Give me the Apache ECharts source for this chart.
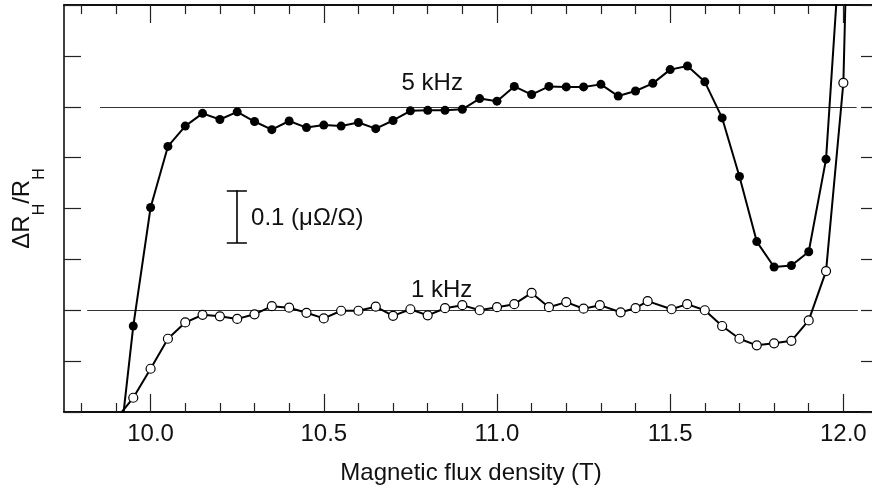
<!DOCTYPE html>
<html>
<head>
<meta charset="utf-8">
<script src="https://cdn.jsdelivr.net/npm/echarts@6/dist/echarts.min.js"></script>
<style>
html,body{margin:0;padding:0;background:#fff;}
#chart{width:872px;height:494px;}
</style>
</head>
<body>
<div id="chart"></div>
<script>
// ---- data ----
const field5k = [9.90, 9.95, 10.00, 10.05, 10.10, 10.15, 10.20, 10.25, 10.30, 10.35, 10.40, 10.45, 10.50, 10.55, 10.60, 10.65, 10.70, 10.75, 10.80, 10.85, 10.90, 10.95, 11.00, 11.05, 11.10, 11.15, 11.20, 11.25, 11.30, 11.35, 11.40, 11.45, 11.50, 11.55, 11.60, 11.65, 11.70, 11.75, 11.80, 11.85, 11.90, 11.95, 12.00];
const signal5k = [-0.134, 0.169, 0.402, 0.522, 0.562, 0.587, 0.575, 0.590, 0.571, 0.555, 0.572, 0.559, 0.564, 0.562, 0.569, 0.557, 0.573, 0.592, 0.593, 0.593, 0.595, 0.616, 0.611, 0.640, 0.624, 0.640, 0.639, 0.639, 0.644, 0.621, 0.631, 0.646, 0.673, 0.680, 0.649, 0.578, 0.463, 0.335, 0.285, 0.288, 0.315, 0.497, 1.013];

const field1k = [9.90, 9.95, 10.00, 10.05, 10.10, 10.15, 10.20, 10.25, 10.30, 10.35, 10.40, 10.45, 10.50, 10.55, 10.60, 10.65, 10.70, 10.75, 10.80, 10.85, 10.90, 10.95, 11.00, 11.05, 11.10, 11.15, 11.20, 11.25, 11.297, 11.357, 11.400, 11.435, 11.504, 11.549, 11.600, 11.65, 11.70, 11.75, 11.80, 11.85, 11.90, 11.95, 12.00, 12.05];
const signal1k = [-0.014, 0.028, 0.085, 0.144, 0.176, 0.191, 0.188, 0.183, 0.192, 0.208, 0.205, 0.195, 0.184, 0.199, 0.199, 0.207, 0.189, 0.202, 0.190, 0.204, 0.210, 0.200, 0.206, 0.212, 0.234, 0.206, 0.216, 0.203, 0.210, 0.196, 0.204, 0.218, 0.202, 0.212, 0.200, 0.169, 0.144, 0.131, 0.135, 0.140, 0.180, 0.277, 0.647, 2.0];

const baseline5k = 0.6;
const baseline1k = 0.2;

const xMajorTicks = [10.0, 10.5, 11.0, 11.5, 12.0];
const xMinorTicks = [9.8, 9.9, 10.1, 10.2, 10.3, 10.4, 10.6, 10.7, 10.8, 10.9, 11.1, 11.2, 11.3, 11.4, 11.6, 11.7, 11.8, 11.9, 12.1];

const xTitle = 'Magnetic flux density (T)';
const label5k = '5 kHz';
const label1k = '1 kHz';
const scaleText = '0.1 (μΩ/Ω)';

// ---- chart ----
const FONT = '"Liberation Sans", Arial, Helvetica, sans-serif';
const FS = 24;
const chart = echarts.init(document.getElementById('chart'), null, {renderer: 'canvas'});

const pair = (xs, ys) => xs.map((x, i) => [x, ys[i]]);

function xAx(pos, ticks, len, withLabels) {
  return {
    type: 'value', position: pos, min: 9.75, max: 12.1, gridIndex: 0,
    axisLine: {show: true, onZero: false, lineStyle: {color: '#000', width: 1.5}},
    axisTick: {show: true, inside: true, length: len, customValues: ticks, lineStyle: {color: '#222', width: 1.2}},
    axisLabel: withLabels ? {show: true, customValues: xMajorTicks, formatter: v => v.toFixed(1), color: '#111', fontSize: FS, fontFamily: FONT, margin: 10} : {show: false},
    splitLine: {show: false},
    name: withLabels ? xTitle : '',
    nameLocation: 'middle', nameGap: 49,
    nameTextStyle: {color: '#111', fontSize: FS, fontFamily: FONT}
  };
}
function yAx(pos, withName) {
  return {
    type: 'value', position: pos, min: 0, max: 0.8, interval: 0.1,
    axisLine: {show: true, onZero: false, lineStyle: {color: '#000', width: 1.5}},
    axisTick: {show: true, inside: true, length: 17, lineStyle: {color: '#222', width: 1.2}},
    axisLabel: {show: false},
    splitLine: {show: false},
    name: withName ? '{a|ΔR}{s|H}{a|/R}{s|H}' : '',
    nameLocation: 'middle', nameRotate: 90, nameGap: 16,
    nameTextStyle: {
      color: '#111', fontFamily: FONT,
      rich: {
        a: {fontSize: FS, fontFamily: FONT, color: '#111', lineHeight: 24, verticalAlign: 'top'},
        s: {fontSize: 16, fontFamily: FONT, color: '#111', lineHeight: 38, verticalAlign: 'bottom'}
      }
    }
  };
}

const option = {
  animation: false,
  backgroundColor: '#fff',
  grid: {left: 64, top: 5, width: 814, height: 407, containLabel: false, outerBoundsMode: 'none'},
  xAxis: [
    xAx('bottom', xMajorTicks, 18, true),
    xAx('bottom', xMinorTicks, 9, false),
    xAx('top', xMajorTicks, 18, false),
    xAx('top', xMinorTicks, 9, false)
  ],
  yAxis: [yAx('left', true), yAx('right', false)],
  series: [
    {
      type: 'lines', coordinateSystem: 'cartesian2d', xAxisIndex: 0, yAxisIndex: 0, z: 1,
      lineStyle: {color: '#333', width: 1.2, opacity: 1},
      data: [
        {coords: [[9.854, baseline5k], [12.038, baseline5k]]},
        {coords: [[9.817, baseline1k], [12.042, baseline1k]]}
      ]
    },
    {
      type: 'lines', coordinateSystem: 'cartesian2d', xAxisIndex: 0, yAxisIndex: 0, z: 3,
      lineStyle: {color: '#000', width: 1.6, opacity: 1},
      data: [
        {coords: [[10.220, 0.4358], [10.278, 0.4358]]},
        {coords: [[10.249, 0.4358], [10.249, 0.3322]]},
        {coords: [[10.220, 0.3322], [10.278, 0.3322]]}
      ]
    },
    {
      name: '5 kHz', type: 'line', xAxisIndex: 0, yAxisIndex: 0, z: 5, clip: true,
      data: pair(field5k, signal5k),
      symbol: 'circle', symbolSize: 9, showAllSymbol: true,
      lineStyle: {color: '#000', width: 2},
      itemStyle: {color: '#000', borderColor: '#000', borderWidth: 0}
    },
    {
      name: '1 kHz', type: 'line', xAxisIndex: 0, yAxisIndex: 0, z: 6, clip: true,
      data: pair(field1k, signal1k),
      symbol: 'circle', symbolSize: 9, showAllSymbol: true,
      lineStyle: {color: '#000', width: 2},
      itemStyle: {color: '#fff', borderColor: '#000', borderWidth: 1.2}
    },
    {
      type: 'scatter', xAxisIndex: 0, yAxisIndex: 0, z: 7, symbolSize: 0, silent: true,
      itemStyle: {opacity: 1, color: '#000'},
      label: {show: true, position: 'inside', color: '#111', opacity: 1, fontSize: FS, fontFamily: FONT, formatter: p => p.data.t},
      data: [
        {value: [10.813, 0.646], t: label5k},
        {value: [10.840, 0.240], t: label1k},
        {value: [10.29, 0.381], t: scaleText, label: {position: 'right', distance: 0}}
      ]
    }
  ]
};
chart.setOption(option);
</script>
</body>
</html>
